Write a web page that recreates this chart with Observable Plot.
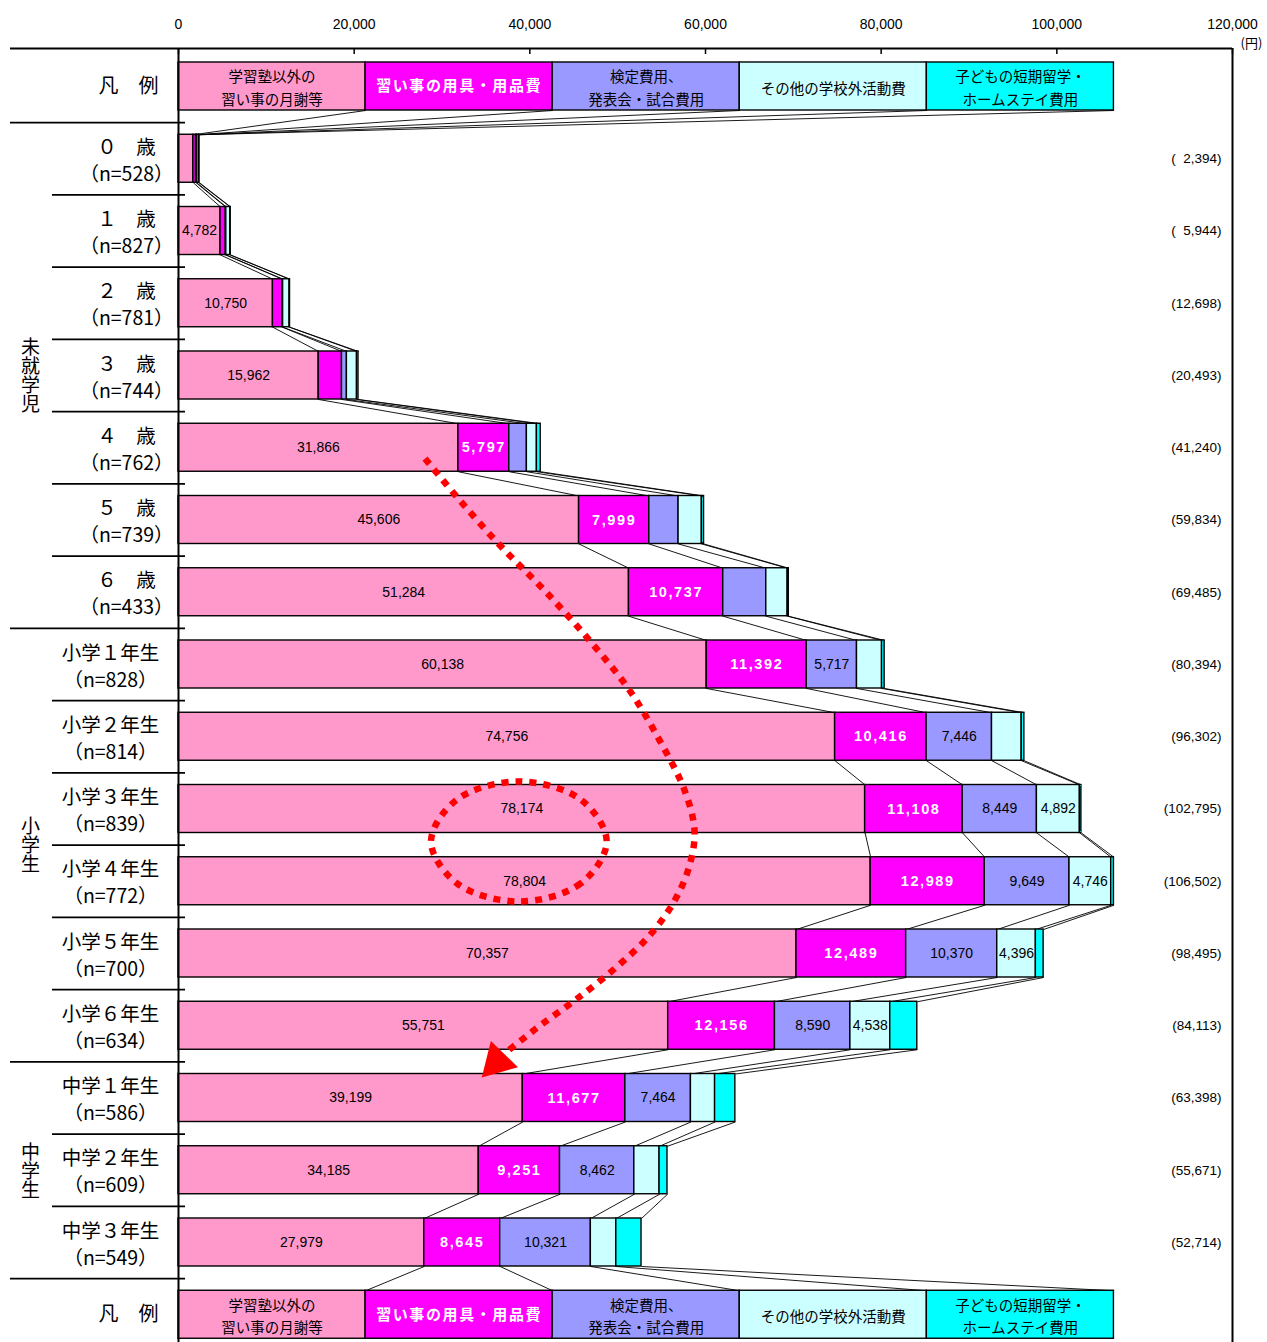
<!DOCTYPE html>
<html lang="ja">
<head>
<meta charset="utf-8">
<title>学校外活動費（習い事等）の年齢別内訳</title>
<script src="https://cdn.jsdelivr.net/npm/d3@7"></script>
<script src="https://cdn.jsdelivr.net/npm/@observablehq/plot@0.6"></script>
<style>
  html, body { margin: 0; padding: 0; background: #fff; }
  #chart svg { display: block; }
  /* spaced-out white bold labels on the magenta segments */
  #chart g[fill="white"][font-weight="bold"] text { letter-spacing: 1.6px; }
  /* group names set vertically down the left edge */
  #chart g[font-size="19"] text { writing-mode: vertical-rl; }
</style>
</head>
<body>
<div id="chart"></div>
<script>
// ---- data -------------------------------------------------------------
const rowLabels = [
  "０　歳", "１　歳", "２　歳", "３　歳", "４　歳", "５　歳", "６　歳",
  "小学１年生", "小学２年生", "小学３年生", "小学４年生", "小学５年生", "小学６年生",
  "中学１年生", "中学２年生", "中学３年生"
];
const sampleSizes = [528, 827, 781, 744, 762, 739, 433, 828, 814, 839, 772, 700, 634, 586, 609, 549];

// 学習塾以外の習い事の月謝等
const tuition = [1690, 4782, 10750, 15962, 31866, 45606, 51284, 60138, 74756, 78174, 78804, 70357, 55751, 39199, 34185, 27979];
// 習い事の用具・用品費
const supplies = [310, 600, 1100, 2650, 5797, 7999, 10737, 11392, 10416, 11108, 12989, 12489, 12156, 11677, 9251, 8645];
// 検定費用、発表会・試合費用
const exams = [90, 60, 60, 560, 2000, 3330, 4900, 5717, 7446, 8449, 9649, 10370, 8590, 7464, 8462, 10321];
// その他の学校外活動費
const otherActivities = [230, 450, 740, 1150, 1140, 2650, 2430, 2850, 3380, 4892, 4746, 4396, 4538, 2750, 2870, 2900];
// 子どもの短期留学・ホームステイ費用
const studyAbroad = [74, 52, 48, 171, 437, 249, 134, 297, 304, 172, 314, 883, 3078, 2308, 903, 2869];

const seriesNames = [
  "学習塾以外の\n習い事の月謝等",
  "習い事の用具・用品費",
  "検定費用、\n発表会・試合費用",
  "その他の学校外活動費",
  "子どもの短期留学・\nホームステイ費用"
];
// the key row (凡例) is drawn as a bar of five equal parts
const legendValues = [21300, 21300, 21300, 21300, 21300];

const groupNames = ["未就学児", "小学生", "中学生"];
const groupSizes = [7, 6, 3];

const xTicks = [0, 20000, 40000, 60000, 80000, 100000, 120000];

// dotted arrow and ellipse drawn over the bars (x in 円, y in row units)
const arrowPath = [
  [28068, 5.15], [32045, 5.73], [36591, 6.35], [41705, 6.98], [46818, 7.67],
  [51364, 8.36], [54773, 9.05], [57614, 9.74], [58750, 10.30], [58182, 10.78],
  [56477, 11.27], [53636, 11.75], [49659, 12.21], [45114, 12.65], [41136, 13.00],
  [38295, 13.27], [37159, 13.38]
];
const arrowHead = [[36250, 13.50]];
const ellipsePath = [
  [48750, 10.45], [45795, 11.03], [38750, 11.28], [31705, 11.03],
  [28750, 10.45], [31705, 9.87], [38750, 9.62], [45795, 9.87]
];

// ---- layout & styles ---------------------------------------------------
const W = 1267, H = 1342;
const marginTop = 48, marginLeft = 178, marginRight = 35;
const pitch = 72.25;        // px per row
const firstCenter = 86;     // px, centre of the top key row
const half = 24 / pitch;    // half bar thickness in row units
const yDomain = [(marginTop - firstCenter) / pitch, (H - firstCenter) / pitch];

const JP = '"Noto Sans CJK JP", "Noto Sans", sans-serif';
const NUM = '"Liberation Sans", Arial, sans-serif';
const colors = ["#FF99CC", "#FF00FF", "#9999FF", "#CCFFFF", "#00FFFF"];
const fmt = d3.format(",");

// ---- derived tables ------------------------------------------------------
const series = [tuition, supplies, exams, otherActivities, studyAbroad];
const nData = rowLabels.length;
const rows = [{idx: 0, values: legendValues, key: true}];
for (let i = 0; i < nData; ++i) {
  rows.push({idx: i + 1, values: series.map(s => s[i]), key: false, data: i});
}
rows.push({idx: nData + 1, values: legendValues, key: true});

const segments = [];
for (const r of rows) {
  let acc = 0;
  r.ends = [];
  r.values.forEach((v, k) => {
    segments.push({idx: r.idx, k, value: v, x1: acc, x2: acc + v, key: r.key, data: r.data});
    acc += v;
    r.ends.push(acc);
  });
  r.total = acc;
}

// series lines linking each stack boundary to the next row
const links = [];
for (let r = 0; r < rows.length - 1; ++r) {
  for (let k = 0; k < 5; ++k) {
    links.push({x1: rows[r].ends[k], y1: rows[r].idx + half, x2: rows[r + 1].ends[k], y2: rows[r + 1].idx - half});
  }
}

// which segments carry a value label
function labelled(s) {
  if (s.key) return false;
  const i = s.data;
  if (s.k === 0) return i >= 1;
  if (s.k === 1) return i >= 4;
  if (s.k === 2) return i >= 7;
  if (s.k === 3) return i >= 9 && i <= 12;
  return false;
}
const darkLabels = segments.filter(s => labelled(s) && s.k !== 1);
const whiteLabels = segments.filter(s => labelled(s) && s.k === 1);

const dataRows = rows.filter(r => !r.key);
const totalText = r => {
  const s = fmt(r.total);
  return "(" + (s.length < 6 ? "\u2007" : "") + s + ")";
};

// row separators in the left-hand table
const boundaries = d3.range(0, nData + 1).map(i => i + 0.5);
const groupEnds = [0.5];
{ let c = 0; for (const g of groupSizes) { c += g; groupEnds.push(c + 0.5); } }
const fullLines = boundaries.filter(b => groupEnds.includes(b));
const shortLines = boundaries.filter(b => !groupEnds.includes(b));

const groupLabels = [];
{ let c = 1; groupNames.forEach((g, j) => {
  groupLabels.push({name: g, idx: c + (groupSizes[j] - 1) / 2});
  c += groupSizes[j];
}); }

const rowText = dataRows.map(r => ({
  idx: r.idx,
  text: rowLabels[r.data] + "\n（n=" + sampleSizes[r.data] + "）",
  preschool: r.data < groupSizes[0]
}));

const keySegments = segments.filter(s => s.key);

// ---- chart ------------------------------------------------------------
const chart = Plot.plot({
  width: W,
  height: H,
  marginTop, marginLeft, marginRight, marginBottom: 0,
  style: {fontFamily: NUM, fontSize: "14px", background: "#fff", color: "#000"},
  x: {domain: [0, 120000], axis: null},
  y: {domain: yDomain, range: [marginTop, H], axis: null},
  marks: [
    // top axis labels and inward ticks
    Plot.axisX({anchor: "top", ticks: xTicks, tickSize: 0, tickPadding: 20, tickFormat: fmt, fontSize: 14, label: null}),
    Plot.ruleX(xTicks, {x: d => d, y1: yDomain[0], y2: yDomain[0] + 6 / pitch, stroke: "#000", strokeWidth: 1.5}),
    Plot.text(["(円)"], {frameAnchor: "top-right", dx: 8, dy: -10, textAnchor: "start", text: d => d, fontFamily: JP, fontSize: 13}),

    // frame and table lines
    Plot.ruleY([yDomain[0]], {y: d => d, x1: 0, x2: 120000, insetLeft: -168, stroke: "#000", strokeWidth: 2}),
    Plot.ruleY(fullLines, {y: d => d, x1: 0, x2: 0, insetLeft: -168, insetRight: -7, stroke: "#000", strokeWidth: 1.8}),
    Plot.ruleY(shortLines, {y: d => d, x1: 0, x2: 0, insetLeft: -126, insetRight: -7, stroke: "#000", strokeWidth: 1.8}),

    // series lines between rows
    Plot.link(links, {x1: "x1", y1: "y1", x2: "x2", y2: "y2", stroke: "#000", strokeWidth: 0.9}),

    // stacked bars (key rows included)
    Plot.rectX(segments, {x1: "x1", x2: "x2", y1: d => d.idx - half, y2: d => d.idx + half, fill: d => colors[d.k], stroke: "#000", strokeWidth: 1.4}),

    Plot.ruleX([0, 120000], {x: d => d, y1: yDomain[0], y2: yDomain[1], stroke: "#000", strokeWidth: 2}),

    // value labels
    Plot.text(darkLabels, {x: d => (d.x1 + d.x2) / 2, y: "idx", text: d => fmt(d.value), fill: "#000", fontSize: 14, fontFamily: NUM}),
    Plot.text(whiteLabels, {x: d => (d.x1 + d.x2) / 2, y: "idx", text: d => fmt(d.value), fill: "white", fontWeight: "bold", fontSize: 14.5, fontFamily: NUM}),

    // key row captions
    Plot.text(keySegments.filter(s => s.k !== 1), {x: d => (d.x1 + d.x2) / 2, y: "idx", text: d => seriesNames[d.k], fill: "#000", fontSize: 14.5, lineHeight: 1.55, fontFamily: JP}),
    Plot.text(keySegments.filter(s => s.k === 1), {x: d => (d.x1 + d.x2) / 2, y: "idx", text: d => seriesNames[d.k], fill: "white", fontWeight: "bold", fontSize: 15, fontFamily: JP}),

    // totals on the right
    Plot.text(dataRows, {y: "idx", frameAnchor: "right", dx: -11, textAnchor: "end", text: totalText, fontSize: 13.5, fontFamily: NUM}),

    // left-hand table text
    Plot.text([0, nData + 1], {y: d => d, frameAnchor: "left", dx: -50, textAnchor: "middle", text: () => "凡　例", fontSize: 20, fontFamily: JP}),
    Plot.text(rowText.filter(d => d.preschool), {y: "idx", frameAnchor: "left", dx: -52, textAnchor: "middle", text: "text", fontSize: 19.5, lineHeight: 1.38, fontFamily: JP}),
    Plot.text(rowText.filter(d => !d.preschool), {y: "idx", frameAnchor: "left", dx: -68, textAnchor: "middle", text: "text", fontSize: 19.5, lineHeight: 1.38, fontFamily: JP}),
    Plot.text(groupLabels, {y: "idx", frameAnchor: "left", dx: -148, dy: -6, textAnchor: "middle", text: "name", fontSize: 19, fontFamily: JP}),

    // red dotted arrow and ellipse
    Plot.line(ellipsePath, {x: d => d[0], y: d => d[1], curve: "catmull-rom-closed", stroke: "#FF0000", strokeWidth: 6.5, strokeDasharray: "7 7", strokeLinecap: "butt"}),
    Plot.line(arrowPath, {x: d => d[0], y: d => d[1], curve: "catmull-rom", stroke: "#FF0000", strokeWidth: 6.5, strokeDasharray: "7 7", strokeLinecap: "butt"}),
    Plot.dot(arrowHead, {x: d => d[0], y: d => d[1], symbol: "triangle", r: 14, rotate: 224, fill: "#FF0000", stroke: "none"})
  ]
});

document.getElementById("chart").appendChild(chart);
</script>
</body>
</html>
